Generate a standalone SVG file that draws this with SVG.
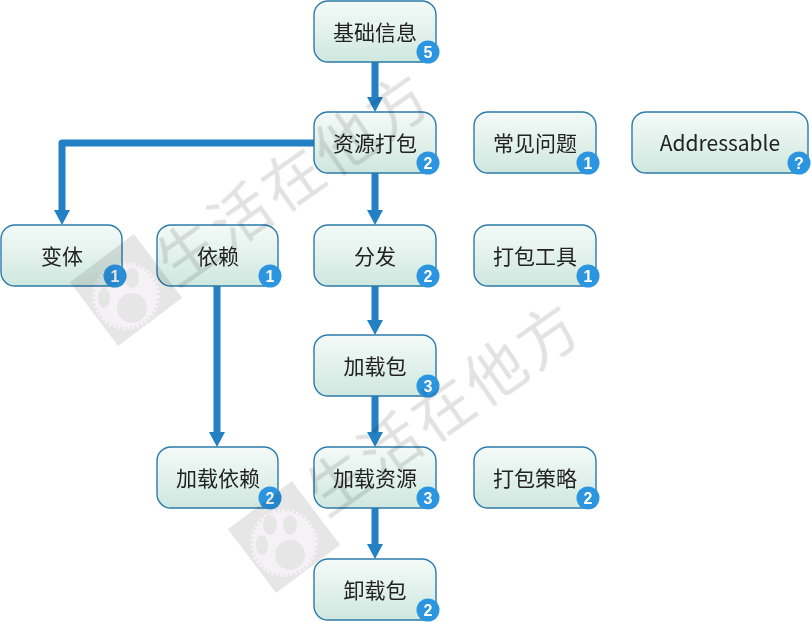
<svg xmlns="http://www.w3.org/2000/svg" width="812" height="622" viewBox="0 0 812 622">
<style>
.box{fill:url(#g);stroke:#2b7bab;stroke-width:1.4}
.t{font:21px "Noto Sans CJK SC","Noto Sans",sans-serif;fill:#222;text-anchor:middle}
.b{fill:#2b95e0}
.n{font:bold 16px "Liberation Sans",sans-serif;fill:#fff;text-anchor:middle}
.c{fill:none;stroke:#2480c4;stroke-width:7}
.a{fill:#2480c4}
#watermark{mix-blend-mode:multiply}
.wm{font:60px "Noto Sans CJK SC",sans-serif;fill:#e2e2e2;letter-spacing:4px}
.sq{fill:#e6e6e6}
.paw{fill:#f6f1f6;stroke:#f6f1f6;stroke-width:6;stroke-dasharray:2.5 2}
.toe{fill:#e6e6e6}
</style>
<defs>
<linearGradient id="g" x1="0" y1="0" x2="0" y2="1"><stop offset="0" stop-color="#f4faf8"/><stop offset=".5" stop-color="#e2f1ec"/><stop offset="1" stop-color="#cfe7df"/></linearGradient>
<g id="logo"><rect class="sq" x="-40" y="-40" width="80" height="80" transform="rotate(-37)"/><circle class="paw" cx="0" cy="6" r="31"/><circle class="toe" cx="6" cy="18" r="15"/><ellipse class="toe" cx="-14" cy="-12" rx="7" ry="10"/><ellipse class="toe" cx="6" cy="-12" rx="7" ry="10"/><ellipse class="toe" cx="-22" cy="8" rx="6" ry="10"/></g>
</defs>
<g id="connectors">
<path class="c" d="M375 62V100"/><path class="a" d="M367 97H383L375 112Z"/>
<path class="c" d="M314 143H62V212" stroke-linejoin="round"/><path class="a" d="M54 210H70L62 225Z"/>
<path class="c" d="M375 173V212"/><path class="a" d="M367 210H383L375 225Z"/>
<path class="c" d="M375 286V322"/><path class="a" d="M367 320H383L375 335Z"/>
<path class="c" d="M375 396V434"/><path class="a" d="M367 432H383L375 447Z"/>
<path class="c" d="M375 508V546"/><path class="a" d="M367 544H383L375 559Z"/>
<path class="c" d="M217 286V434"/><path class="a" d="M209 432H225L217 447Z"/>
</g>
<g id="n1"><rect class="box" x="314" y="1" width="122" height="61" rx="14"/><text class="t" x="375" y="40">基础信息</text><circle class="b" cx="428" cy="52" r="11.5"/><text class="n" x="428" y="58">5</text></g>
<g id="n2"><rect class="box" x="314" y="112" width="122" height="61" rx="14"/><text class="t" x="375" y="151">资源打包</text><circle class="b" cx="428" cy="163" r="11.5"/><text class="n" x="428" y="169">2</text></g>
<g id="n3"><rect class="box" x="474" y="112" width="122" height="61" rx="14"/><text class="t" x="535" y="151">常见问题</text><circle class="b" cx="588" cy="163" r="11.5"/><text class="n" x="588" y="169">1</text></g>
<g id="n4"><rect class="box" x="632" y="112" width="176" height="61" rx="14"/><text class="t" x="720" y="151">Addressable</text><circle class="b" cx="799" cy="163" r="11.5"/><text class="n" x="799" y="169">?</text></g>
<g id="n5"><rect class="box" x="1" y="225" width="121" height="61" rx="14"/><text class="t" x="62" y="264">变体</text><circle class="b" cx="115" cy="276" r="11.5"/><text class="n" x="115" y="282">1</text></g>
<g id="n6"><rect class="box" x="157" y="225" width="121" height="61" rx="14"/><text class="t" x="218" y="264">依赖</text><circle class="b" cx="270" cy="276" r="11.5"/><text class="n" x="270" y="282">1</text></g>
<g id="n7"><rect class="box" x="314" y="225" width="122" height="61" rx="14"/><text class="t" x="375" y="264">分发</text><circle class="b" cx="428" cy="276" r="11.5"/><text class="n" x="428" y="282">2</text></g>
<g id="n8"><rect class="box" x="474" y="225" width="122" height="61" rx="14"/><text class="t" x="535" y="264">打包工具</text><circle class="b" cx="588" cy="276" r="11.5"/><text class="n" x="588" y="282">1</text></g>
<g id="n9"><rect class="box" x="314" y="335" width="122" height="61" rx="14"/><text class="t" x="375" y="374">加载包</text><circle class="b" cx="428" cy="386" r="11.5"/><text class="n" x="428" y="392">3</text></g>
<g id="n10"><rect class="box" x="157" y="447" width="121" height="61" rx="14"/><text class="t" x="218" y="486">加载依赖</text><circle class="b" cx="270" cy="498" r="11.5"/><text class="n" x="270" y="504">2</text></g>
<g id="n11"><rect class="box" x="314" y="447" width="122" height="61" rx="14"/><text class="t" x="375" y="486">加载资源</text><circle class="b" cx="428" cy="498" r="11.5"/><text class="n" x="428" y="504">3</text></g>
<g id="n12"><rect class="box" x="474" y="447" width="122" height="61" rx="14"/><text class="t" x="535" y="486">打包策略</text><circle class="b" cx="588" cy="498" r="11.5"/><text class="n" x="588" y="504">2</text></g>
<g id="n13"><rect class="box" x="314" y="559" width="122" height="61" rx="14"/><text class="t" x="375" y="598">卸载包</text><circle class="b" cx="428" cy="610" r="11.5"/><text class="n" x="428" y="616">2</text></g>
<g id="watermark">
<use href="#logo" transform="translate(126 290)"/>
<text class="wm" transform="translate(176 288) rotate(-35)">生活在他方</text>
<use href="#logo" transform="translate(284 537)"/>
<text class="wm" transform="translate(326 518) rotate(-35)">生活在他方</text>
</g>
</svg>
